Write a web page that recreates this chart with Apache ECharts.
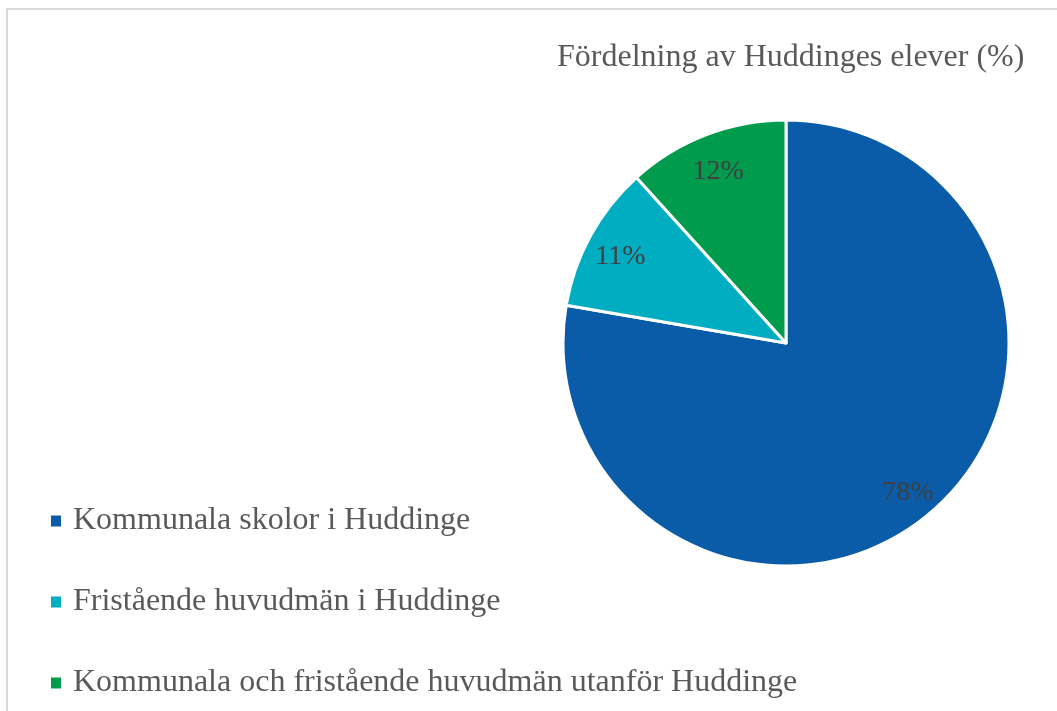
<!DOCTYPE html>
<html>
<head>
<meta charset="utf-8">
<script src="https://cdn.jsdelivr.net/npm/echarts@6/dist/echarts.min.js"></script>
<style>
  html, body { margin: 0; padding: 0; background: #fff; overflow: hidden; }
  #chart { position: absolute; left: 0; top: 0; width: 1057px; height: 711px; }
  .frame {
    position: absolute; left: 6px; top: 8px; right: -20px; bottom: -20px;
    border: 2px solid #d9d9d9; pointer-events: none;
  }
</style>
</head>
<body>
<div id="chart"></div>
<div class="frame"></div>
<script>
const TITLE = 'Fördelning av Huddinges elever (%)'
const categories = [
  'Kommunala skolor i Huddinge',
  'Fristående huvudmän i Huddinge',
  'Kommunala och fristående huvudmän utanför Huddinge'
]
const shares = [77.7, 10.6, 11.7]
const colors = ['#0a5ca8', '#00adc1', '#019b4e']

const FONT = '"Liberation Serif", "Times New Roman", serif'

const pieData = categories.map((name, i) => ({ name, value: shares[i] }))

const chart = echarts.init(document.getElementById('chart'), null, { renderer: 'canvas' })
chart.setOption({
  animation: false,
  color: colors,
  title: {
    text: TITLE,
    left: 557,
    top: 42,
    padding: 0,
    textStyle: { fontFamily: FONT, fontSize: 32, fontWeight: 'normal', color: '#595959', lineHeight: 32 }
  },
  legend: {
    orient: 'vertical',
    left: 49,
    top: 505,
    padding: 0,
    itemWidth: 12,
    itemHeight: 13,
    itemGap: 49,
    icon: 'rect',
    data: categories,
    textStyle: {
      fontFamily: FONT, fontSize: 32, color: '#595959', lineHeight: 32,
      padding: [0, 0, 0, 6]
    }
  },
  series: [
    {
      type: 'pie',
      center: [786, 343],
      radius: [0, 223],
      startAngle: 90,
      clockwise: true,
      avoidLabelOverlap: false,
      label: { show: false },
      labelLine: { show: false },
      itemStyle: { borderColor: '#fff', borderWidth: 3 },
      emphasis: { disabled: true },
      data: pieData
    },
    {
      // transparent ring only used to place the percentage labels near the rim
      type: 'pie',
      silent: true,
      center: [786, 343],
      radius: [156, 216],
      startAngle: 90,
      clockwise: true,
      avoidLabelOverlap: false,
      itemStyle: { color: 'rgba(0,0,0,0)', borderWidth: 0 },
      labelLine: { show: false },
      label: {
        show: true,
        position: 'inside',
        offset: [0, 5],
        fontFamily: FONT,
        fontSize: 28,
        color: '#404040',
        formatter: (p) => Math.round(p.value) + '%'
      },
      emphasis: { disabled: true },
      data: pieData
    }
  ]
})
</script>
</body>
</html>
